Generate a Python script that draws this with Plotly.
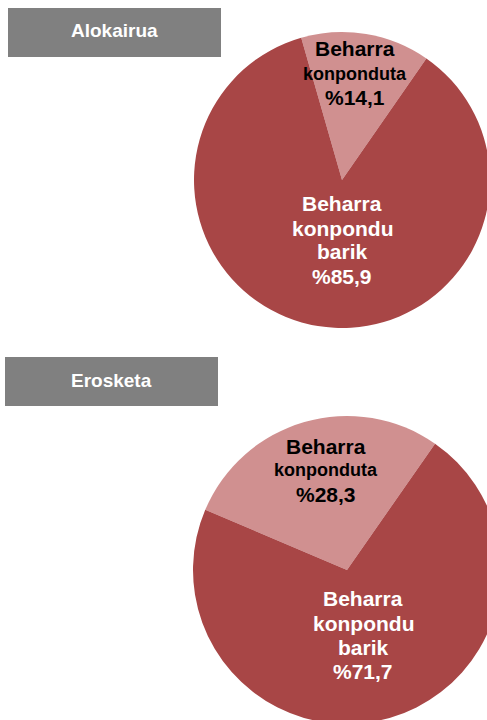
import plotly.graph_objects as go

# Datuak
kategoriak = ["Beharra konponduta", "Beharra konpondu barik"]
alokairua = [14.1, 85.9]
erosketa = [28.3, 71.7]
izenburuak = ["Alokairua", "Erosketa"]
koloreak = ["#D09090", "#A84646"]

W, H = 505, 728  # zertxobait leihoa baino handiagoa: tartak eskuinean mozten dira


def px(x):
    return x / W


def py(y):
    return 1 - y / H


def ehuneko(v):
    return "%" + f"{v:.1f}".replace(".", ",")


fig = go.Figure()

# tarta bakoitza: balioak, domeinua (px), biraketa
tartak = [
    (alokairua, (194, 490, 32, 328), -16),
    (erosketa, (193, 501, 416, 724), -67),
]
for balioak, (x0, x1, y0, y1), rot in tartak:
    fig.add_trace(go.Pie(
        labels=kategoriak,
        values=balioak,
        sort=False,
        direction="clockwise",
        rotation=rot,
        marker=dict(colors=koloreak, line=dict(width=0)),
        textinfo="none",
        hoverinfo="label+percent",
        domain=dict(x=[px(x0), px(x1)], y=[py(y1), py(y0)]),
        showlegend=False,
    ))

# izenburu-kutxak
kutxak = [(8, 221, 8, 57, 31), (5, 218, 357, 406, 380)]
for izena, (x0, x1, y0, y1, ty) in zip(izenburuak, kutxak):
    fig.add_shape(type="rect", xref="paper", yref="paper",
                  x0=px(x0), x1=px(x1), y0=py(y1), y1=py(y0),
                  fillcolor="#808080", line=dict(width=0), layer="below")
    fig.add_annotation(x=px((x0 + x1) / 2), y=py(ty), xref="paper", yref="paper",
                       xanchor="center", yanchor="middle",
                       text="<b>" + izena + "</b>", showarrow=False,
                       font=dict(size=19, color="white", family="Liberation Sans"))

# etiketak
def etiketa(lerroak, x, ys, kolorea, tamainak):
    for testua, y, s in zip(lerroak, ys, tamainak):
        fig.add_annotation(x=px(x), y=py(y), xref="paper", yref="paper",
                           xanchor="center", yanchor="middle",
                           text="<b>" + testua + "</b>", showarrow=False,
                           font=dict(size=s, color=kolorea, family="Liberation Sans"))


etiketa(["Beharra", "konponduta", ehuneko(alokairua[0])], 355, [49, 74, 98], "black", [21, 18, 21])
etiketa(["Beharra", "konpondu", "barik", ehuneko(alokairua[1])], 342, [203, 228, 251, 276], "white", [21] * 4)
etiketa(["Beharra", "konponduta", ehuneko(erosketa[0])], 326, [446, 470, 494], "black", [21, 18, 21])
etiketa(["Beharra", "konpondu", "barik", ehuneko(erosketa[1])], 363, [598, 623, 647, 671], "white", [21] * 4)

fig.update_layout(
    width=W, height=H,
    margin=dict(l=0, r=0, t=0, b=0),
    paper_bgcolor="white",
    plot_bgcolor="white",
)

fig.write_html("out.html", config={"displayModeBar": False},
               post_script="document.body.style.margin='0';document.body.style.overflow='hidden';")
